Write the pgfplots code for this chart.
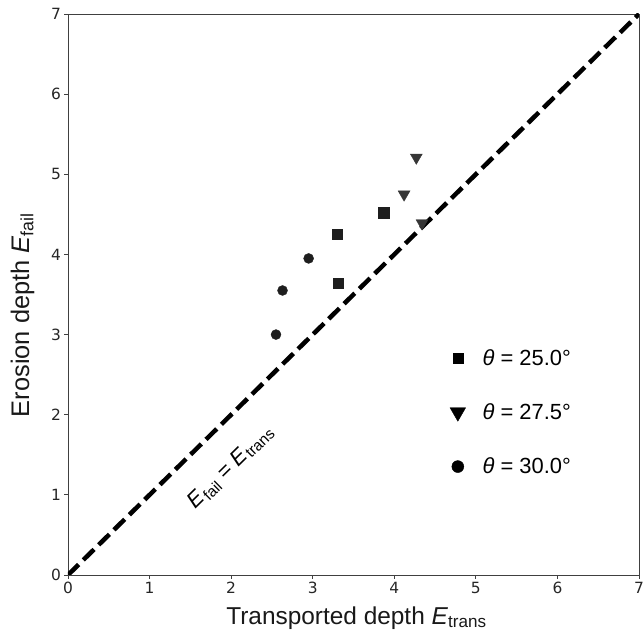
\documentclass[border=0pt]{standalone}
\usepackage{fontspec}
\setmainfont{Liberation Sans}
\newfontfamily\tickfont{DejaVu Sans}
\usepackage{pgfplots}
\pgfplotsset{compat=1.18}
\definecolor{mk}{HTML}{1E1E1E}
\definecolor{mt}{HTML}{363636}
\begin{document}
\begin{tikzpicture}
\path[use as bounding box] (-68bp,-58bp) rectangle (576bp,575bp);
\begin{axis}[
  scale only axis, width=571bp, height=561bp,
  xmin=0, xmax=7, ymin=0, ymax=7,
  xtick={0,1,...,7}, ytick={0,1,...,7},
  tick align=outside, xtick pos=bottom, ytick pos=left,
  major tick length=3.5bp,
  axis line style={black!75, line width=0.8bp},
  tick style={black!75, line width=0.8bp},
  ticklabel style={font=\tickfont\fontsize{15.5}{18}\selectfont, text=black!85},
  /pgf/number format/assume math mode=true,
  xlabel={Transported depth \textit{E}\textsubscript{trans}},
  ylabel={Erosion depth \textit{E}\textsubscript{fail}},
  xlabel style={font=\fontsize{24.5}{28}\selectfont, text=black!90,
    at={(axis description cs:0.5,0)}, anchor=base, yshift=-49bp, xshift=3bp},
  ylabel style={font=\fontsize{25.5}{29}\selectfont, text=black!90,
    at={(axis description cs:-0.0797,0.4635)}, anchor=center},
  legend cell align=left,
  legend style={at={(rel axis cs:0.6635,0.410)}, anchor=north west, draw=none, fill=none,
    font=\fontsize{22}{26}\selectfont, row sep=33bp, column sep=15bp},
]
\addplot[black, line width=4.5bp, dash pattern=on 15bp off 6.5bp, forget plot] coordinates {(0,0) (7,7)};
% theta = 25.0
\addplot[only marks, mark=square*, mark size=5.3bp, color=mk, forget plot] coordinates {
(3.87,4.52) (3.30,4.25) (3.31,3.64)};
% theta = 27.5
\addplot[only marks, mark=triangle*, mark size=6.9bp, mark options={rotate=180}, color=mt, forget plot] coordinates {
(4.27,5.21) (4.12,4.75) (4.34,4.39)};
% theta = 30.0
\addplot[only marks, mark=*, mark size=5bp, color=mk, forget plot] coordinates {
(2.95,3.95) (2.63,3.55) (2.55,3.00)};
\addlegendimage{only marks, mark=square*, mark size=5bp, black}
\addlegendentry{\textit{θ} = 25.0°}
\addlegendimage{only marks, mark=triangle*, mark size=9bp, mark options={rotate=180}, black}
\addlegendentry{\textit{θ} = 27.5°}
\addlegendimage{only marks, mark=*, mark size=6bp, black}
\addlegendentry{\textit{θ} = 30.0°}
\node[rotate=44.5, font=\fontsize{22}{26}\selectfont] at (axis cs:2.0,1.35)
  {\textit{E}\textsubscript{fail} = \textit{E}\textsubscript{trans}};
\end{axis}
\end{tikzpicture}
\end{document}
